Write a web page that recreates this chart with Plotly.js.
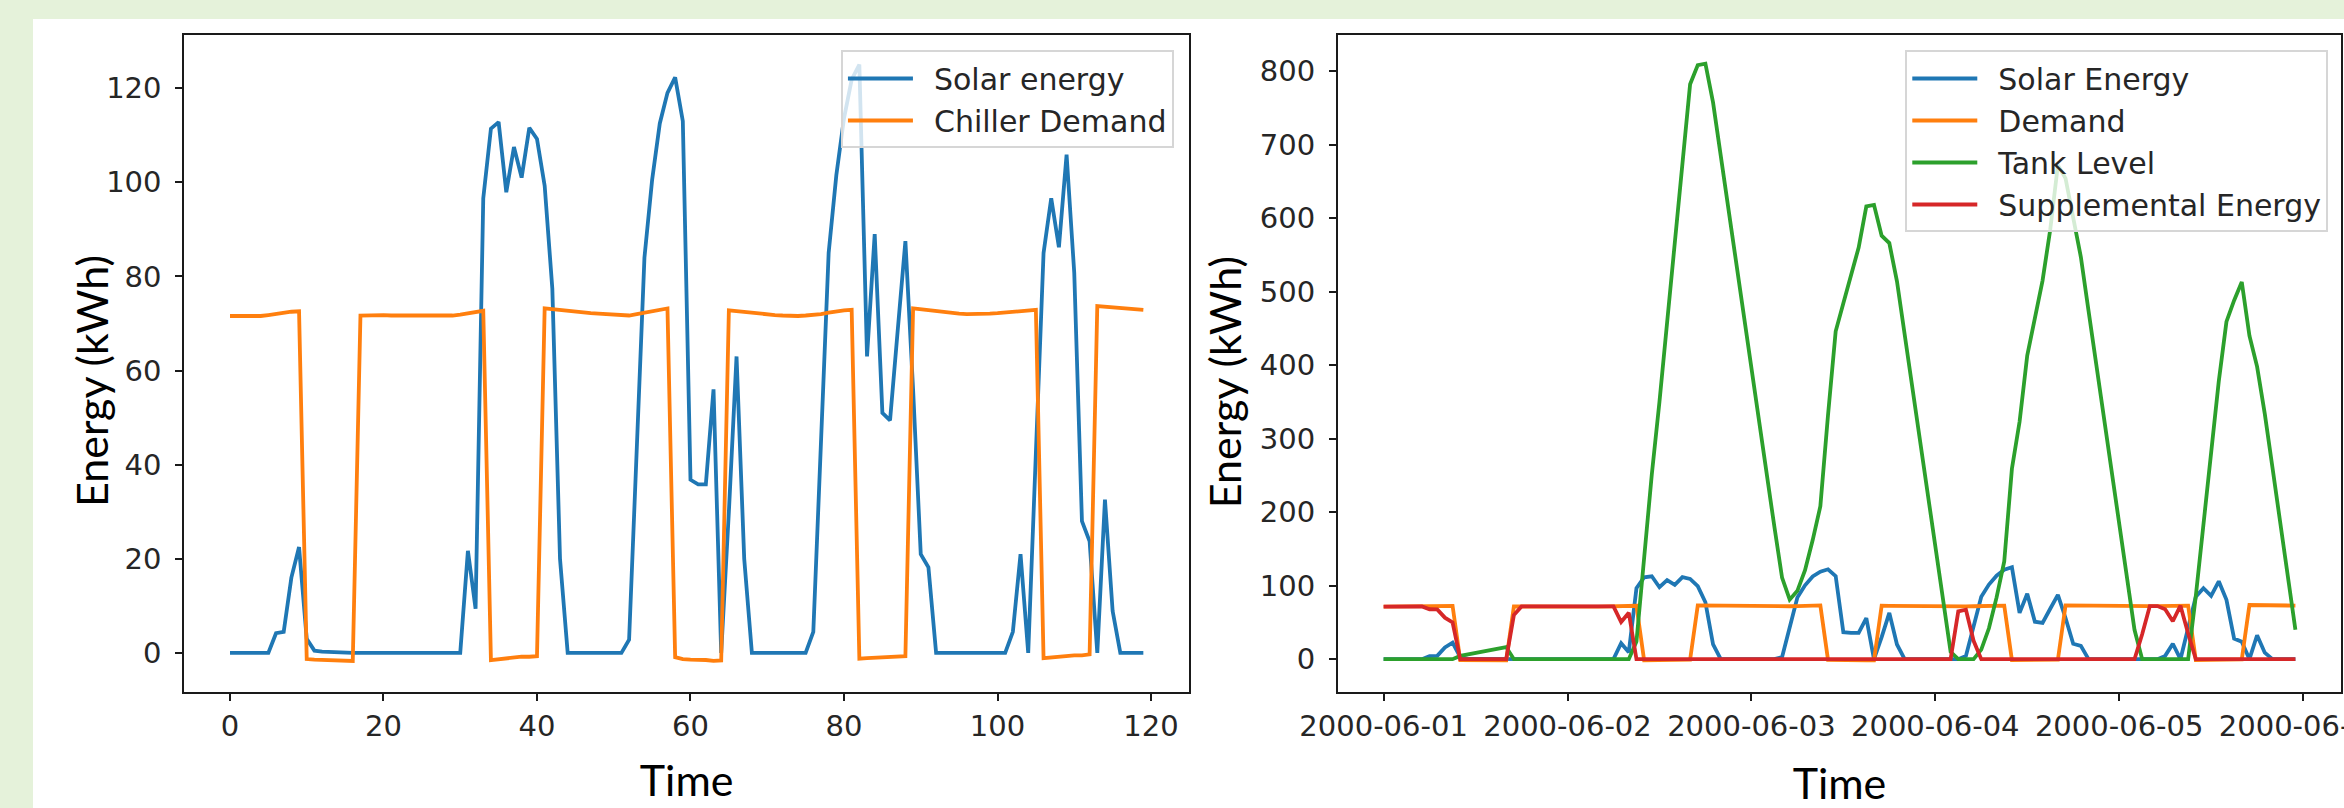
<!DOCTYPE html>
<html><head><meta charset="utf-8">
<script src="https://cdn.plot.ly/plotly-3.0.1.min.js"></script>
<style>
html,body{margin:0;padding:0;background:#e5f2da;width:2344px;height:808px;overflow:hidden;}
#chart{position:absolute;left:33px;top:19px;width:2311px;height:789px;background:#fff;}
</style></head><body><div id="chart"></div>
<script>
// Hourly series, 120 hours (index 0..119 = 2000-06-01 00:00 .. 2000-06-05 23:00)
const solarEnergy = [
 0,0,0,0,0,0,4.2,4.5,16,22.5,
 3,0.5,0.3,0.2,0,0,0,0,0,0,
 0,0,0,0,0,0,0,0,0,0,
 0,21.7,9.4,96.6,111.4,112.8,97.9,107.5,101,111.6,
 109.2,99.3,77.4,20,0,0,0,0,0,0,
 0,0,2.8,42,84,100.5,112.5,119,122.3,113,
 36.8,35.8,35.8,56,0,30,63,20,0,0,
 0,0,0,0,0,0,4.5,45,85,101.5,
 113.6,121.8,125,63,89,51,49.4,68.6,87.5,56,
 21,18.2,0,0,0,0,0,0,0,0,
 0,0,4.5,21,0,40,85,96.6,86.2,105.9,
 80.7,28,23.7,0,32.6,8.9,0,0,0,0];

const chillerDemand = [
 71.6,71.6,71.5,71.5,71.6,71.8,72.1,72.3,72.5,72.6,
 -1.3,-1.4,-1.5,-1.6,-1.6,-1.7,-1.7,
 71.7,71.8,71.8,71.8,71.7,71.7,71.7,71.6,71.6,71.6,71.6,71.6,71.7,71.9,72.2,72.5,72.7,
 -1.5,-1.3,-1.0,-0.9,-0.8,-0.8,-0.7,
 73.2,73.0,72.8,72.6,72.4,72.3,72.2,72.1,72.0,71.9,71.8,71.7,72.0,72.3,72.7,73.0,73.2,
 -0.9,-1.3,-1.4,-1.4,-1.5,-1.7,-1.6,
 72.8,72.6,72.4,72.2,72.0,71.9,71.8,71.7,71.6,71.6,71.7,71.8,72.0,72.3,72.6,72.8,72.9,
 -1.2,-1.1,-1.0,-1.0,-0.9,-0.8,-0.7,
 73.2,73.0,72.7,72.5,72.3,72.2,72.1,72.0,72.0,72.0,72.1,72.2,72.3,72.5,72.6,72.8,72.9,
 -1.1,-0.9,-0.7,-0.6,-0.5,-0.5,-0.3,
 73.7,73.6,73.4,73.3,73.2,73.1,72.9];

const tankLevel = [
 0,0,0,0,0,0,0,0,0,0,
 4.5,6.5,8.5,10.5,12.5,14.5,16.5,
 0,0,0,0,0,0,0,0,0,0,0,0,0,0,0,0,
 24,137,251,350,458,560,672,782,808,810,
 757,684,612,540,468,396,324,252,180,111,
 81,93,121,162,208,332,446,484,522,560,
 616,618,576,566,514,442,370,298,226,154,
 82,10,0,0,0,13,42,84,133,259,
 323,413,465,515,584,672,654,602,547,474,
 401,328,256,184,112,40,0,0,0,0,
 0,0,0,86,184,271,378,459,488,513,
 440,398,334,261,188,114,40];

const supplementalEnergy = [
 71.6,71.6,71.5,71.5,71.6,71.8,67.9,67.8,56.5,50.1,
 0,0,0,0,0,0,0,
 60,
 71.8,71.8,71.8,71.7,71.7,71.7,71.6,71.6,71.6,71.6,71.6,71.7,
 71.9,50.5,63.1,
 0,0,0,0,0,0,0,0,0,0,0,0,0,0,0,0,0,0,0,0,0,0,0,0,0,0,0,0,0,0,0,0,0,0,0,0,0,0,0,0,0,0,
 65,67.3,25,
 0,0,0,0,0,0,0,0,0,0,0,0,0,0,0,0,0,0,0,0,0,
 34,72.2,72.3,68,51.6,72.8,35,
 0,0,0,0,0,0,0,0,0,0,0,0,0,0];

const timeIndex = solarEnergy.map((_, i) => i);
const timeStamps = timeIndex.map(h => new Date(Date.UTC(2000, 5, 1, h)).toISOString().slice(0, 16).replace('T', ' '));

const leftNames = ['Solar energy', 'Chiller Demand'];
const rightNames = ['Solar Energy', 'Demand', 'Tank Level', 'Supplemental Energy'];
const axisTitleX = 'Time';
const axisTitleY = 'Energy (kWh)';
const colors = ['#1f77b4', '#ff7f0e', '#2ca02c', '#d62728'];

const LW = 3.8;
const traces = [
  {x: timeIndex, y: solarEnergy, name: leftNames[0], type: 'scatter', mode: 'lines', line: {color: colors[0], width: LW}, xaxis: 'x', yaxis: 'y', legend: 'legend'},
  {x: timeIndex, y: chillerDemand, name: leftNames[1], type: 'scatter', mode: 'lines', line: {color: colors[1], width: LW}, xaxis: 'x', yaxis: 'y', legend: 'legend'},
  {x: timeStamps, y: solarEnergy, name: rightNames[0], type: 'scatter', mode: 'lines', line: {color: colors[0], width: LW}, xaxis: 'x2', yaxis: 'y2', legend: 'legend2'},
  {x: timeStamps, y: chillerDemand, name: rightNames[1], type: 'scatter', mode: 'lines', line: {color: colors[1], width: LW}, xaxis: 'x2', yaxis: 'y2', legend: 'legend2'},
  {x: timeStamps, y: tankLevel, name: rightNames[2], type: 'scatter', mode: 'lines', line: {color: colors[2], width: LW}, xaxis: 'x2', yaxis: 'y2', legend: 'legend2'},
  {x: timeStamps, y: supplementalEnergy, name: rightNames[3], type: 'scatter', mode: 'lines', line: {color: colors[3], width: LW}, xaxis: 'x2', yaxis: 'y2', legend: 'legend2'}
];

const tickFont = {family: 'DejaVu Sans, sans-serif', size: 29, color: '#262626'};
const titleFont = {family: 'Lato, "Open Sans", sans-serif', size: 43, color: '#000'};
const axisBase = {
  showline: true, mirror: true, linecolor: '#1a1a1a', linewidth: 2,
  ticks: 'outside', ticklen: 7, tickwidth: 2, tickcolor: '#1a1a1a',
  showgrid: false, zeroline: false, tickfont: tickFont, automargin: false
};
const yDom = [0.14639, 0.97972];
const legendBase = {
  y: 0.96008, yanchor: 'top', xanchor: 'right',
  bgcolor: 'rgba(255,255,255,0.8)', bordercolor: '#d6d6d6', borderwidth: 2,
  font: {family: 'DejaVu Sans, sans-serif', size: 30, color: '#262626'},
  itemwidth: 81
};
const yTitleBase = {text: axisTitleY, showarrow: false, xref: 'paper', yref: 'paper',
  textangle: -90, xanchor: 'center', yanchor: 'middle', font: titleFont};

const layout = {
  width: 2311, height: 789,
  margin: {l: 0, r: 0, t: 0, b: 0},
  paper_bgcolor: '#ffffff', plot_bgcolor: '#ffffff',
  showlegend: true,
  xaxis: Object.assign({}, axisBase, {domain: [0.06547, 0.50022], anchor: 'y', range: [-5.95, 124.95], tick0: 0, dtick: 20,
    title: {text: axisTitleX, font: titleFont, standoff: 24}}),
  yaxis: Object.assign({}, axisBase, {domain: yDom, anchor: 'x', range: [-8.4, 131.3], tick0: 0, dtick: 20, ticklabelstandoff: 8}),
  xaxis2: Object.assign({}, axisBase, {domain: [0.5647, 0.9987], anchor: 'y2', type: 'date',
    range: ['2000-05-31 18:03', '2000-06-06 04:57'], tick0: '2000-06-01', dtick: 86400000, tickformat: '%Y-%m-%d',
    ticklabeloverflow: 'allow', title: {text: axisTitleX, font: titleFont, standoff: 29}}),
  yaxis2: Object.assign({}, axisBase, {domain: yDom, anchor: 'x2', range: [-45.3, 849], tick0: 0, dtick: 100, ticklabelstandoff: 8}),
  annotations: [
    Object.assign({}, yTitleBase, {x: 0.02553, y: 0.5412}),
    Object.assign({}, yTitleBase, {x: 0.51562, y: 0.5392})
  ],
  legend: Object.assign({}, legendBase, {x: 0.4937}),
  legend2: Object.assign({}, legendBase, {x: 0.9932})
};

Plotly.newPlot('chart', traces, layout, {displayModeBar: false, staticPlot: true}).then(gd => {
  gd.querySelectorAll('.legendlines path').forEach(p => p.setAttribute('d', 'M5,0h65'));
});
</script></body></html>
